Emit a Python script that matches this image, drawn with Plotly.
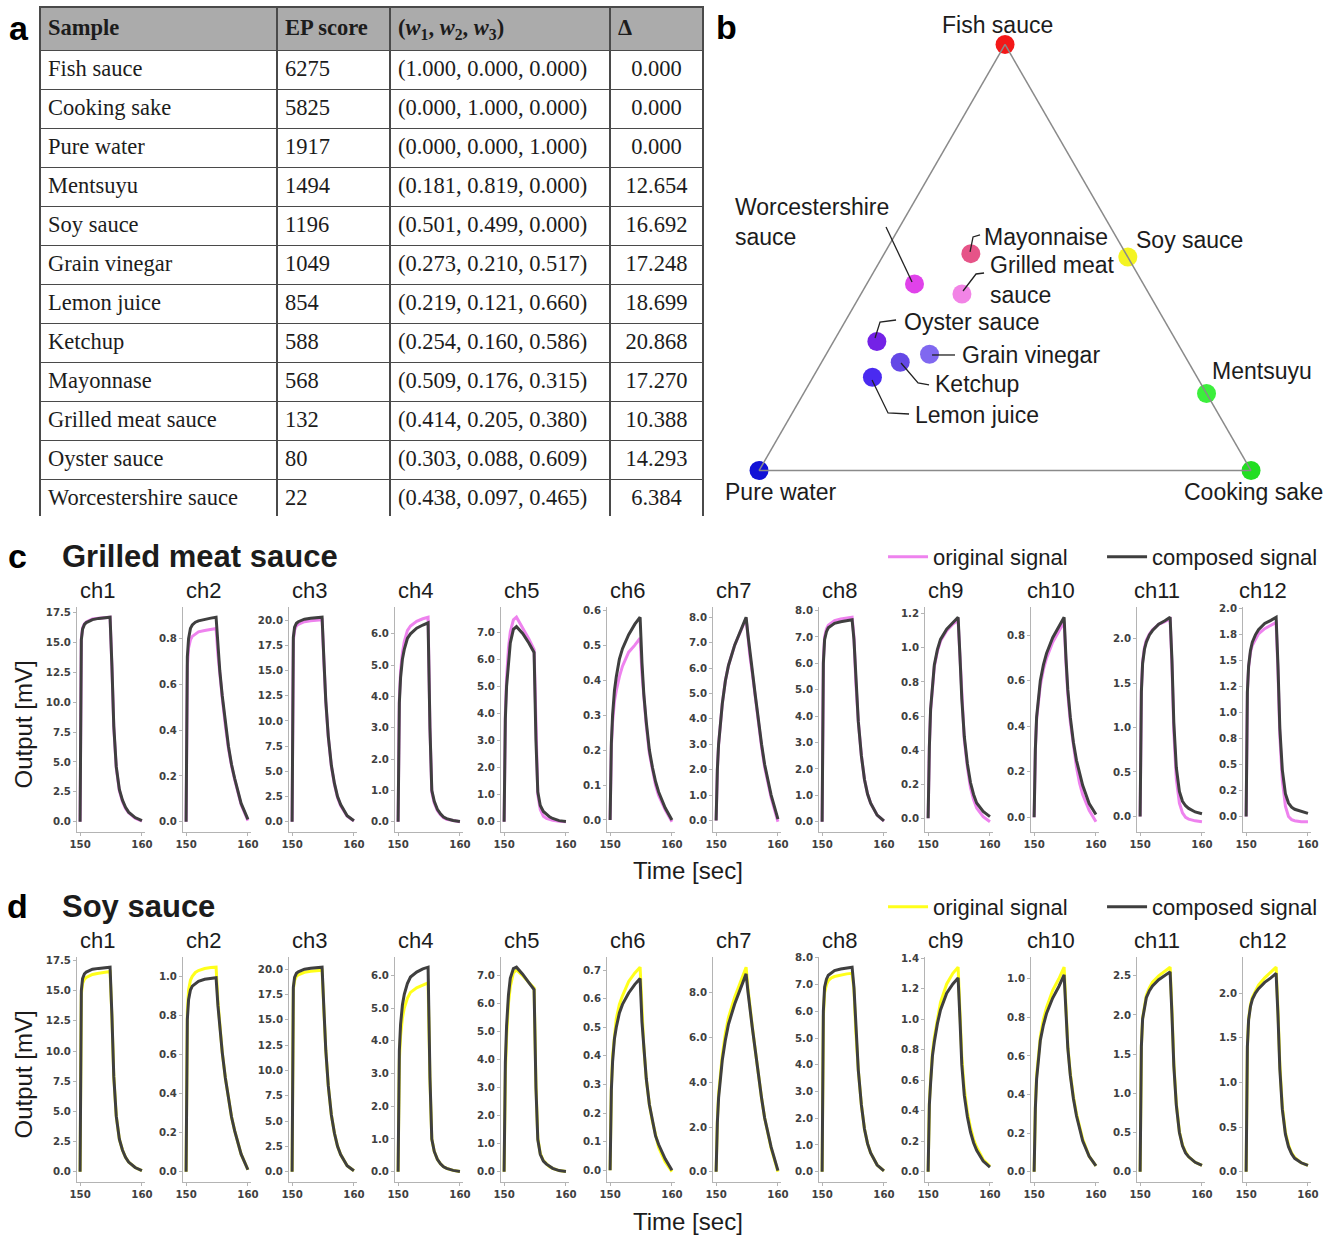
import plotly.graph_objects as go

W, H = 1338, 1236
# the photographed page shows a slight global scale/offset; positions below are
# reference-pixel positions converted through the inverse of that mapping
PHOTO_SX, PHOTO_OX = 0.988, 8.0
PHOTO_SY, PHOTO_OY = 0.996, 5.0


def px(x):
    return ((x - PHOTO_OX) / PHOTO_SX) / W


def py(y):
    return 1.0 - ((y - PHOTO_OY) / PHOTO_SY) / H


# ---------------- panel a: table data ----------------
SAMPLES = ["Fish sauce", "Cooking sake", "Pure water", "Mentsuyu", "Soy sauce",
           "Grain vinegar", "Lemon juice", "Ketchup", "Mayonnase",
           "Grilled meat sauce", "Oyster sauce", "Worcestershire sauce"]
EP_SCORE = [6275, 5825, 1917, 1494, 1196, 1049, 854, 588, 568, 132, 80, 22]
W1 = [1.000, 0.000, 0.000, 0.181, 0.501, 0.273, 0.219, 0.254, 0.509, 0.414, 0.303, 0.438]
W2 = [0.000, 1.000, 0.000, 0.819, 0.499, 0.210, 0.121, 0.160, 0.176, 0.205, 0.088, 0.097]
W3 = [0.000, 0.000, 1.000, 0.000, 0.000, 0.517, 0.660, 0.586, 0.315, 0.380, 0.609, 0.465]
DELTA = [0.000, 0.000, 0.000, 12.654, 16.692, 17.248, 18.699, 20.868, 17.270, 10.388, 14.293, 6.384]

# ---------------- panel b: ternary labels / colours ----------------
TERNARY_LABELS = ["Fish sauce", "Cooking sake", "Pure water", "Mentsuyu", "Soy sauce",
                  "Grain vinegar", "Lemon juice", "Ketchup", "Mayonnaise",
                  "Grilled meat sauce", "Oyster sauce", "Worcestershire sauce"]
POINT_COLORS = ["#f31818", "#22de22", "#1212d6", "#3cef3c", "#f4f422",
                "#8068f0", "#4a2af0", "#6448e6", "#e65488",
                "#f284e6", "#7422e6", "#e042ea"]

# ---------------- panels c, d: sensor signals ----------------
TIME = [150.0, 150.05, 150.2, 150.4, 150.7, 151.0, 151.5, 152.0, 153.0, 154.0,
        154.85, 155.15, 155.45, 155.85, 156.35, 156.85, 157.35, 157.85, 158.9, 160.0]
CHANNELS = ["ch%d" % i for i in range(1, 13)]

GRILLED_COMPOSED = [
    [0.0, 9.0, 15.2, 16.1, 16.5, 16.65, 16.8, 16.9, 17.0, 17.05, 17.1, 13.0, 8.0, 4.6, 2.7, 1.8, 1.2, 0.8, 0.35, 0.1],
    [0.0, 0.35, 0.72, 0.80, 0.845, 0.86, 0.872, 0.878, 0.885, 0.89, 0.894, 0.76, 0.66, 0.55, 0.43, 0.33, 0.25, 0.19, 0.08, 0.01],
    [0.0, 10.0, 18.3, 19.3, 19.7, 19.85, 20.0, 20.1, 20.2, 20.25, 20.3, 16.0, 12.0, 8.5, 5.6, 3.8, 2.5, 1.7, 0.6, 0.1],
    [0.0, 2.0, 3.8, 4.6, 5.2, 5.5, 5.85, 6.0, 6.18, 6.28, 6.35, 3.0, 1.0, 0.65, 0.4, 0.25, 0.15, 0.1, 0.04, 0.01],
    [0.0, 2.0, 3.8, 5.0, 6.0, 6.6, 7.1, 7.2, 6.95, 6.6, 6.25, 3.0, 1.1, 0.6, 0.38, 0.28, 0.18, 0.12, 0.04, 0.01],
    [0.0, 0.10, 0.22, 0.30, 0.37, 0.41, 0.46, 0.49, 0.53, 0.56, 0.58, 0.45, 0.36, 0.28, 0.20, 0.15, 0.11, 0.08, 0.035, 0.0],
    [0.0, 0.6, 2.0, 3.0, 3.9, 4.6, 5.5, 6.1, 6.9, 7.5, 8.0, 7.3, 6.6, 5.9, 4.9, 3.9, 3.0, 2.2, 1.0, 0.05],
    [0.0, 3.5, 6.0, 6.9, 7.2, 7.35, 7.45, 7.52, 7.58, 7.62, 7.65, 6.9, 5.3, 3.8, 2.5, 1.6, 1.05, 0.7, 0.25, 0.03],
    [0.0, 0.15, 0.42, 0.64, 0.80, 0.90, 0.99, 1.05, 1.11, 1.15, 1.18, 0.95, 0.70, 0.48, 0.32, 0.21, 0.14, 0.09, 0.04, 0.01],
    [0.0, 0.10, 0.30, 0.44, 0.53, 0.60, 0.67, 0.72, 0.79, 0.84, 0.88, 0.70, 0.56, 0.44, 0.33, 0.25, 0.19, 0.14, 0.06, 0.012],
    [0.0, 0.6, 1.4, 1.72, 1.88, 1.96, 2.04, 2.09, 2.16, 2.20, 2.24, 1.75, 1.05, 0.55, 0.28, 0.17, 0.12, 0.09, 0.05, 0.03],
    [0.0, 0.5, 1.2, 1.45, 1.6, 1.68, 1.75, 1.8, 1.86, 1.89, 1.92, 1.45, 0.85, 0.45, 0.22, 0.13, 0.09, 0.07, 0.05, 0.03],
]
GRILLED_ORIGINAL = [
    [0.0, 9.0, 15.3, 16.2, 16.55, 16.7, 16.85, 16.95, 17.02, 17.07, 17.1, 12.9, 7.9, 4.5, 2.6, 1.7, 1.1, 0.75, 0.3, 0.06],
    [0.0, 0.33, 0.68, 0.76, 0.795, 0.81, 0.822, 0.83, 0.836, 0.84, 0.845, 0.73, 0.64, 0.54, 0.42, 0.32, 0.245, 0.185, 0.075, 0.005],
    [0.0, 9.8, 18.0, 19.0, 19.45, 19.6, 19.75, 19.85, 19.95, 20.0, 20.05, 15.8, 11.9, 8.4, 5.5, 3.7, 2.4, 1.6, 0.55, 0.08],
    [0.0, 2.0, 3.9, 4.8, 5.4, 5.75, 6.1, 6.25, 6.4, 6.48, 6.53, 3.0, 0.95, 0.6, 0.36, 0.22, 0.13, 0.08, 0.03, 0.0],
    [0.0, 2.1, 4.0, 5.3, 6.4, 7.0, 7.45, 7.55, 7.15, 6.75, 6.35, 3.0, 1.0, 0.45, 0.2, 0.12, 0.08, 0.05, 0.02, 0.0],
    [0.0, 0.10, 0.21, 0.28, 0.34, 0.37, 0.41, 0.44, 0.48, 0.50, 0.52, 0.42, 0.35, 0.27, 0.19, 0.14, 0.10, 0.07, 0.03, -0.005],
    [0.0, 0.6, 2.0, 3.0, 3.9, 4.6, 5.5, 6.1, 6.9, 7.5, 7.95, 7.25, 6.5, 5.8, 4.8, 3.8, 2.9, 2.1, 0.9, -0.05],
    [0.0, 3.6, 6.1, 7.0, 7.3, 7.45, 7.55, 7.62, 7.68, 7.72, 7.75, 7.0, 5.3, 3.8, 2.5, 1.6, 1.05, 0.7, 0.25, 0.02],
    [0.0, 0.15, 0.42, 0.63, 0.79, 0.89, 0.98, 1.04, 1.10, 1.14, 1.16, 0.93, 0.68, 0.46, 0.30, 0.18, 0.11, 0.06, 0.01, -0.02],
    [0.0, 0.10, 0.30, 0.43, 0.52, 0.58, 0.65, 0.70, 0.77, 0.82, 0.86, 0.68, 0.54, 0.42, 0.31, 0.22, 0.15, 0.10, 0.03, -0.02],
    [0.0, 0.6, 1.42, 1.74, 1.90, 1.98, 2.05, 2.10, 2.16, 2.19, 2.22, 1.70, 0.95, 0.42, 0.15, 0.04, -0.01, -0.03, -0.05, -0.06],
    [0.0, 0.5, 1.2, 1.44, 1.58, 1.65, 1.71, 1.76, 1.81, 1.84, 1.87, 1.40, 0.78, 0.35, 0.10, 0.0, -0.03, -0.04, -0.05, -0.05],
]
SOY_COMPOSED = [
    [0.0, 9.0, 15.0, 16.0, 16.4, 16.55, 16.7, 16.78, 16.85, 16.9, 16.95, 12.9, 7.9, 4.6, 2.7, 1.8, 1.2, 0.8, 0.35, 0.1],
    [0.0, 0.4, 0.78, 0.88, 0.93, 0.95, 0.965, 0.975, 0.985, 0.99, 0.993, 0.85, 0.73, 0.61, 0.48, 0.37, 0.28, 0.21, 0.09, 0.01],
    [0.0, 10.0, 18.2, 19.2, 19.6, 19.75, 19.9, 20.0, 20.1, 20.15, 20.2, 16.0, 12.0, 8.5, 5.6, 3.8, 2.5, 1.7, 0.6, 0.1],
    [0.0, 1.9, 3.7, 4.5, 5.1, 5.42, 5.75, 5.95, 6.1, 6.2, 6.25, 2.9, 1.0, 0.62, 0.38, 0.24, 0.15, 0.1, 0.04, 0.01],
    [0.0, 2.0, 3.9, 5.2, 6.3, 6.9, 7.25, 7.3, 7.05, 6.75, 6.5, 3.0, 1.15, 0.62, 0.38, 0.27, 0.18, 0.12, 0.04, 0.01],
    [0.0, 0.12, 0.28, 0.38, 0.46, 0.50, 0.55, 0.58, 0.62, 0.65, 0.67, 0.52, 0.42, 0.32, 0.23, 0.17, 0.12, 0.09, 0.04, 0.0],
    [0.0, 0.7, 2.2, 3.3, 4.3, 5.0, 5.9, 6.6, 7.5, 8.2, 8.85, 8.05, 7.25, 6.45, 5.4, 4.3, 3.3, 2.4, 1.1, 0.05],
    [0.0, 3.5, 6.0, 6.9, 7.2, 7.35, 7.45, 7.52, 7.58, 7.62, 7.65, 6.9, 5.3, 3.8, 2.5, 1.6, 1.05, 0.7, 0.25, 0.03],
    [0.0, 0.16, 0.44, 0.58, 0.76, 0.85, 0.97, 1.06, 1.17, 1.23, 1.27, 1.0, 0.7, 0.5, 0.36, 0.26, 0.19, 0.14, 0.07, 0.03],
    [0.0, 0.11, 0.33, 0.48, 0.60, 0.68, 0.76, 0.82, 0.90, 0.96, 1.02, 0.80, 0.64, 0.50, 0.38, 0.29, 0.22, 0.16, 0.08, 0.03],
    [0.0, 0.7, 1.6, 1.95, 2.12, 2.22, 2.31, 2.37, 2.45, 2.51, 2.55, 2.0, 1.35, 0.85, 0.5, 0.33, 0.24, 0.19, 0.12, 0.08],
    [0.0, 0.6, 1.4, 1.7, 1.85, 1.93, 2.0, 2.05, 2.12, 2.17, 2.22, 1.75, 1.15, 0.7, 0.42, 0.28, 0.2, 0.15, 0.1, 0.07],
]
SOY_ORIGINAL = [
    [0.0, 8.8, 14.7, 15.6, 15.95, 16.1, 16.25, 16.35, 16.45, 16.55, 16.6, 12.8, 7.9, 4.6, 2.7, 1.8, 1.2, 0.8, 0.35, 0.1],
    [0.0, 0.42, 0.82, 0.93, 0.98, 1.0, 1.02, 1.03, 1.04, 1.045, 1.047, 0.87, 0.74, 0.61, 0.48, 0.37, 0.28, 0.21, 0.09, 0.01],
    [0.0, 9.8, 18.0, 18.9, 19.3, 19.45, 19.6, 19.7, 19.8, 19.85, 19.9, 15.8, 12.0, 8.5, 5.6, 3.8, 2.5, 1.7, 0.6, 0.1],
    [0.0, 1.7, 3.4, 4.15, 4.7, 5.0, 5.3, 5.48, 5.62, 5.7, 5.77, 2.8, 1.0, 0.62, 0.38, 0.24, 0.15, 0.1, 0.04, 0.01],
    [0.0, 1.8, 3.5, 4.8, 6.0, 6.6, 7.1, 7.2, 7.0, 6.75, 6.55, 3.1, 1.2, 0.65, 0.4, 0.28, 0.18, 0.12, 0.04, 0.01],
    [0.0, 0.12, 0.29, 0.40, 0.48, 0.53, 0.58, 0.61, 0.66, 0.69, 0.71, 0.54, 0.43, 0.32, 0.23, 0.17, 0.12, 0.08, 0.03, -0.005],
    [0.0, 0.7, 2.3, 3.5, 4.5, 5.2, 6.2, 6.9, 7.8, 8.5, 9.15, 8.2, 7.35, 6.5, 5.4, 4.3, 3.3, 2.4, 1.05, 0.0],
    [0.0, 3.4, 5.8, 6.7, 7.0, 7.15, 7.25, 7.3, 7.36, 7.4, 7.42, 6.8, 5.25, 3.8, 2.5, 1.6, 1.05, 0.7, 0.25, 0.03],
    [0.0, 0.16, 0.45, 0.60, 0.78, 0.88, 1.01, 1.11, 1.23, 1.30, 1.34, 1.05, 0.75, 0.54, 0.39, 0.29, 0.21, 0.16, 0.08, 0.035],
    [0.0, 0.11, 0.34, 0.50, 0.62, 0.70, 0.79, 0.85, 0.94, 1.0, 1.06, 0.82, 0.65, 0.51, 0.39, 0.30, 0.23, 0.17, 0.08, 0.03],
    [0.0, 0.7, 1.6, 1.96, 2.14, 2.25, 2.35, 2.42, 2.5, 2.56, 2.61, 2.05, 1.38, 0.87, 0.51, 0.34, 0.25, 0.19, 0.12, 0.08],
    [0.0, 0.6, 1.4, 1.71, 1.87, 1.95, 2.03, 2.09, 2.17, 2.23, 2.29, 1.8, 1.2, 0.73, 0.44, 0.3, 0.21, 0.16, 0.1, 0.07],
]

# y tick steps (matplotlib-style ticks, labels formatted with one decimal)
GRILLED_TICK_STEP = [2.5, 0.2, 2.5, 1, 1, 0.1, 1, 1, 0.2, 0.2, 0.5, 0.25]
SOY_TICK_STEP = [2.5, 0.2, 2.5, 1, 1, 0.1, 2, 1, 0.2, 0.2, 0.5, 0.5]
X_TICKS = [150, 160]

# ---------------- style ----------------
SANS = "Liberation Sans"
SERIF = "Liberation Serif"
TXT = "#1c1c1c"
PINK = "#ee82ee"
YELLOW = "#ffff1a"
GRAY = "#3f3f3f"
SPINE = "#b4b4b4"
TICKFONT = dict(family="DejaVu Sans", size=10.2, color="#404040", weight="bold")

fig = go.Figure()
annotations = []
shapes = []

# ================= panel a: table =================
header_vals = ["<b>Sample</b>", "<b>EP score</b>",
               "<b>(<i>w</i><sub>1</sub>, <i>w</i><sub>2</sub>, <i>w</i><sub>3</sub>)</b>",
               "<b>Δ</b>"]
cell_vals = [
    SAMPLES,
    [str(v) for v in EP_SCORE],
    ["(%.3f, %.3f, %.3f)" % (a, b, c) for a, b, c in zip(W1, W2, W3)],
    ["%.3f" % d for d in DELTA],
]
fig.add_trace(go.Table(
    domain=dict(x=[px(40), px(703)], y=[py(517), py(7)]),
    columnwidth=[237, 113, 220, 93],
    header=dict(values=header_vals, fill_color="#ababab",
                line=dict(color="#4a4a4a", width=1.5), align="left",
                font=dict(family=SERIF, size=22.5, color=TXT), height=39),
    cells=dict(values=cell_vals, fill_color="white",
               line=dict(color="#4a4a4a", width=1.5),
               align=["left", "left", "left", "center"],
               font=dict(family=SERIF, size=22.5, color=TXT), height=39),
))

# ================= panel b: ternary =================
fig.add_trace(go.Scatterternary(
    a=W1, b=W3, c=W2, mode="markers", cliponaxis=False,
    marker=dict(size=19, color=POINT_COLORS, line=dict(width=0)),
    text=TERNARY_LABELS, hoverinfo="text", showlegend=False, subplot="ternary",
))
tern_axis = dict(showticklabels=False, ticks="", showgrid=False, showline=True,
                 linecolor="#8a8a8a", linewidth=1.5, title=dict(text=""))

# ternary labels (left x, centre y, text)
TERN_TEXT = [
    (733, 222, "Worcestershire<br>sauce"),
    (982, 237, "Mayonnaise"), (988, 280, "Grilled meat<br>sauce"),
    (1134, 240, "Soy sauce"), (902, 322, "Oyster sauce"), (960, 355, "Grain vinegar"),
    (933, 384, "Ketchup"), (913, 415, "Lemon juice"), (1210, 371, "Mentsuyu"),
    (723, 492, "Pure water"), (1182, 492, "Cooking sake"),
]
for x, y, t in TERN_TEXT:
    annotations.append(dict(x=px(x), y=py(y), xref="paper", yref="paper", text=t,
                            showarrow=False, xanchor="left", yanchor="middle", align="left",
                            font=dict(family=SANS, size=23, color=TXT)))
annotations.append(dict(x=px(997), y=py(25), xref="paper", yref="paper", text="Fish sauce",
                        showarrow=False, xanchor="center", yanchor="middle",
                        font=dict(family=SANS, size=23, color=TXT)))
LEADERS = [
    [(886, 227), (912, 282)],
    [(970, 252), (973, 237), (980, 235)],
    [(963, 291), (976, 274), (984, 273)],
    [(875, 338), (880, 322), (896, 320)],
    [(932, 355), (955, 355)],
    [(901, 363), (918, 383), (929, 385)],
    [(872, 380), (888, 413), (909, 414)],
]
for pts in LEADERS:
    path = "M " + " L ".join("%.5f,%.5f" % (px(x), py(y)) for x, y in pts)
    shapes.append(dict(type="path", xref="paper", yref="paper", path=path,
                       line=dict(color="#222222", width=1.3)))

# ================= panels c, d =================
ROWS = [
    dict(orig=GRILLED_ORIGINAL, comp=GRILLED_COMPOSED, color=PINK, steps=GRILLED_TICK_STEP,
         top=607, bottom=832, title="Grilled meat sauce", letter="c", title_y=557,
         ch_y=591, time_y=871, leg=("legend", "legend2")),
    dict(orig=SOY_ORIGINAL, comp=SOY_COMPOSED, color=YELLOW, steps=SOY_TICK_STEP,
         top=957, bottom=1182, title="Soy sauce", letter="d", title_y=907,
         ch_y=941, time_y=1222, leg=("legend3", "legend4")),
]
PANEL_LEFT0 = 77
PANEL_STEP = 106
PANEL_W = 68

layout_axes = {}
n = 0
for row in ROWS:
    for i in range(12):
        n += 1
        xid = "x" if n == 1 else "x%d" % n
        yid = "y" if n == 1 else "y%d" % n
        orig = row["orig"][i]
        comp = row["comp"][i]
        fig.add_trace(go.Scatter(
            x=TIME, y=orig, xaxis=xid, yaxis=yid, mode="lines",
            line=dict(color=row["color"], width=3), name="original signal",
            showlegend=(i == 0), legend=row["leg"][0], hoverinfo="skip"))
        fig.add_trace(go.Scatter(
            x=TIME, y=comp, xaxis=xid, yaxis=yid, mode="lines",
            line=dict(color=GRAY, width=3), name="composed signal",
            showlegend=(i == 0), legend=row["leg"][1], hoverinfo="skip"))

        lo = min(min(orig), min(comp))
        hi = max(max(orig), max(comp))
        pad = 0.05 * (hi - lo)
        step = row["steps"][i]
        tickvals = []
        k = 0
        while k * step <= hi + pad + 1e-9:
            tickvals.append(round(k * step, 6))
            k += 1
        ticktext = ["%.1f" % v for v in tickvals]

        left = PANEL_LEFT0 + PANEL_STEP * i
        xkey = "xaxis" if n == 1 else "xaxis%d" % n
        ykey = "yaxis" if n == 1 else "yaxis%d" % n
        layout_axes[xkey] = dict(
            domain=[px(left), px(left + PANEL_W)], anchor=yid, range=[149.5, 160.5],
            tickmode="array", tickvals=X_TICKS, ticktext=[str(v) for v in X_TICKS],
            showline=True, linecolor=SPINE, linewidth=1, ticks="outside", ticklen=3,
            tickcolor=SPINE, showgrid=False, zeroline=False, tickfont=TICKFONT,
            fixedrange=True)
        layout_axes[ykey] = dict(
            domain=[py(row["bottom"]), py(row["top"])], anchor=xid, range=[lo - pad, hi + pad],
            tickmode="array", tickvals=tickvals, ticktext=ticktext,
            showline=True, linecolor=SPINE, linewidth=1, ticks="outside", ticklen=3,
            tickcolor=SPINE, showgrid=False, zeroline=False, tickfont=TICKFONT,
            fixedrange=True)
        annotations.append(dict(x=px(left + 20), y=py(row["ch_y"]), xref="paper", yref="paper",
                                text=CHANNELS[i], showarrow=False, xanchor="center",
                                yanchor="middle", font=dict(family=SANS, size=22, color=TXT)))

    annotations.append(dict(x=px(60), y=py(row["title_y"]), xref="paper", yref="paper",
                            text="<b>%s</b>" % row["title"], showarrow=False, xanchor="left",
                            yanchor="middle", font=dict(family=SANS, size=31, color=TXT)))
    annotations.append(dict(x=px(23), y=py((row["top"] + row["bottom"]) / 2 + 5), xref="paper",
                            yref="paper", text="Output [mV]", showarrow=False, textangle=-90,
                            xanchor="center", yanchor="middle",
                            font=dict(family=SANS, size=24, color=TXT)))
    annotations.append(dict(x=px(688), y=py(row["time_y"]), xref="paper", yref="paper",
                            text="Time [sec]", showarrow=False, xanchor="center",
                            yanchor="middle", font=dict(family=SANS, size=24, color=TXT)))

# panel letters
for x, y, t in [(19, 28, "a"), (726, 27, "b"), (17, 556, "c"), (17, 906, "d")]:
    annotations.append(dict(x=px(x), y=py(y), xref="paper", yref="paper", text="<b>%s</b>" % t,
                            showarrow=False, xanchor="center", yanchor="middle",
                            font=dict(family=SANS, size=34, color="#000000")))

legend_common = dict(orientation="h", xanchor="left", yanchor="middle",
                     bgcolor="rgba(0,0,0,0)", borderwidth=0, itemwidth=40,
                     font=dict(family=SANS, size=22, color=TXT))

fig.update_layout(
    width=W, height=H, margin=dict(l=0, r=0, t=0, b=0),
    paper_bgcolor="white", plot_bgcolor="white",
    ternary=dict(domain=dict(x=[px(759), px(1251)], y=[py(471), py(44)]), sum=1,
                 bgcolor="white", aaxis=tern_axis, baxis=tern_axis, caxis=tern_axis),
    annotations=annotations, shapes=shapes,
    legend=dict(x=px(883), y=py(557), **legend_common),
    legend2=dict(x=px(1102), y=py(557), **legend_common),
    legend3=dict(x=px(883), y=py(907), **legend_common),
    legend4=dict(x=px(1102), y=py(907), **legend_common),
    **layout_axes,
)

POST = (
    "document.body.style.margin='0px';"
    "document.body.style.padding='0px';"
)
fig.write_html("out.html", config={"displayModeBar": False}, post_script=POST)
